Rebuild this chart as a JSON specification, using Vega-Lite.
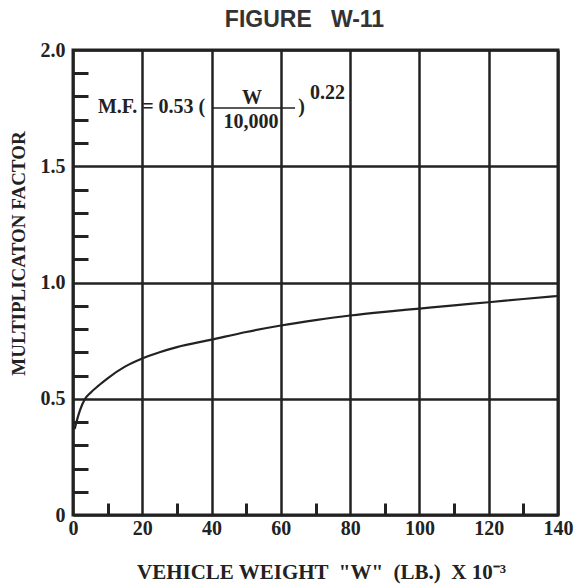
{
  "$schema": "https://vega.github.io/schema/vega-lite/v6.json",
  "width": 485,
  "height": 465,
  "autosize": "none",
  "padding": {"left": 73, "top": 50, "right": 20, "bottom": 73},
  "background": "white",
  "title": {
    "text": "FIGURE \u00a0\u00a0W-11",
    "font": "Liberation Sans",
    "fontSize": 23,
    "fontWeight": "bold",
    "color": "#333333",
    "anchor": "middle",
    "frame": "group",
    "dx": -11,
    "dy": 10,
    "baseline": "alphabetic",
    "offset": 0
  },
  "datasets": {
    "curve": [
      {"w": 0.5, "mf": 0.37},
      {"w": 1, "mf": 0.40},
      {"w": 2, "mf": 0.45},
      {"w": 3.5, "mf": 0.50},
      {"w": 5, "mf": 0.525},
      {"w": 7.5, "mf": 0.558},
      {"w": 10, "mf": 0.588},
      {"w": 15, "mf": 0.638},
      {"w": 20, "mf": 0.673},
      {"w": 25, "mf": 0.70},
      {"w": 30, "mf": 0.722},
      {"w": 40, "mf": 0.754},
      {"w": 50, "mf": 0.787},
      {"w": 60, "mf": 0.815},
      {"w": 70, "mf": 0.838},
      {"w": 80, "mf": 0.858},
      {"w": 90, "mf": 0.874},
      {"w": 100, "mf": 0.888},
      {"w": 110, "mf": 0.902},
      {"w": 120, "mf": 0.915},
      {"w": 130, "mf": 0.929},
      {"w": 140, "mf": 0.942}
    ],
    "fracbar": [
      {"x": 40.4, "x2": 64.1, "y": 1.751}
    ],
    "leftText": [
      {"label": "M.F. = 0.53 (", "x": 7.2, "y": 1.755},
      {"label": ")", "x": 65.0, "y": 1.755},
      {"label": "0.22", "x": 68.4, "y": 1.815}
    ],
    "centerText": [
      {"label": "W", "x": 51.7, "y": 1.794},
      {"label": "10,000", "x": 51.4, "y": 1.69}
    ]
  },
  "layer": [
    {
      "data": {"name": "curve"},
      "mark": {"type": "line", "color": "#222222", "strokeWidth": 2.2, "interpolate": "monotone"},
      "encoding": {
        "x": {
          "field": "w", "type": "quantitative",
          "scale": {"domain": [0, 140], "nice": false, "zero": false},
          "axis": {
            "orient": "bottom",
            "values": [0, 20, 40, 60, 80, 100, 120, 140],
            "grid": true, "gridColor": "#222222", "gridWidth": 2.5, "gridOpacity": 1,
            "ticks": false, "domain": false,
            "labelFont": "Liberation Serif", "labelFontWeight": "bold", "labelFontSize": 20,
            "labelColor": "#222222", "labelPadding": 3, "labelFlush": false, "labelOverlap": false,
            "title": "VEHICLE WEIGHT \u00a0\"W\" \u00a0(LB.) \u00a0X 10⁻³",
            "titleFont": "Liberation Serif", "titleFontWeight": "bold", "titleFontSize": 21,
            "titleColor": "#222222", "titleX": 248, "titleY": 57, "titleBaseline": "middle", "titleAnchor": "middle"
          }
        },
        "y": {
          "field": "mf", "type": "quantitative",
          "scale": {"domain": [0, 2], "nice": false, "zero": true},
          "axis": {
            "orient": "left",
            "values": [0, 0.5, 1, 1.5, 2],
            "labelExpr": "datum.value == 0 ? '0' : format(datum.value, '.1f')",
            "grid": true, "gridColor": "#222222", "gridWidth": 2.5, "gridOpacity": 1,
            "ticks": false, "domain": false,
            "labelFont": "Liberation Serif", "labelFontWeight": "bold", "labelFontSize": 20,
            "labelColor": "#222222", "labelPadding": 8, "labelFlush": false, "labelOverlap": false,
            "title": "MULTIPLICATON FACTOR",
            "titleFont": "Liberation Serif", "titleFontWeight": "bold", "titleFontSize": 19,
            "titleColor": "#222222", "titleX": -55, "titleY": 203, "titleAngle": -90,
            "titleBaseline": "middle", "titleAnchor": "middle"
          }
        }
      }
    },
    {
      "data": {"name": "fracbar"},
      "mark": {"type": "rule", "color": "#222222", "strokeWidth": 1.5},
      "encoding": {
        "x": {
          "field": "x", "type": "quantitative",
          "scale": {"domain": [0, 140], "nice": false, "zero": false},
          "axis": {
            "orient": "bottom",
            "values": [10, 30, 50, 70, 90, 110, 130],
            "labels": false, "domain": false, "grid": false,
            "ticks": true, "tickSize": -12, "tickWidth": 3, "tickColor": "#222222",
            "title": null
          }
        },
        "x2": {"field": "x2"},
        "y": {
          "field": "y", "type": "quantitative",
          "scale": {"domain": [0, 2], "nice": false, "zero": true},
          "axis": {
            "orient": "left",
            "values": [0.1, 0.2, 0.3, 0.4, 0.6, 0.7, 0.8, 0.9, 1.1, 1.2, 1.3, 1.4, 1.6, 1.7, 1.8, 1.9],
            "labels": false, "domain": false, "grid": false,
            "ticks": true, "tickSize": -15, "tickWidth": 3, "tickColor": "#222222",
            "title": null
          }
        }
      }
    },
    {
      "data": {"name": "leftText"},
      "mark": {"type": "text", "align": "left", "baseline": "middle", "font": "Liberation Serif", "fontWeight": "bold", "fontSize": 20, "color": "#222222"},
      "encoding": {
        "x": {"field": "x", "type": "quantitative", "scale": {"domain": [0, 140], "nice": false, "zero": false}, "axis": null},
        "y": {"field": "y", "type": "quantitative", "scale": {"domain": [0, 2], "nice": false, "zero": true}, "axis": null},
        "text": {"field": "label", "type": "nominal"}
      }
    },
    {
      "data": {"name": "centerText"},
      "mark": {"type": "text", "align": "center", "baseline": "middle", "font": "Liberation Serif", "fontWeight": "bold", "fontSize": 20, "color": "#222222"},
      "encoding": {
        "x": {"field": "x", "type": "quantitative", "scale": {"domain": [0, 140], "nice": false, "zero": false}, "axis": null},
        "y": {"field": "y", "type": "quantitative", "scale": {"domain": [0, 2], "nice": false, "zero": true}, "axis": null},
        "text": {"field": "label", "type": "nominal"}
      }
    }
  ],
  "resolve": {"axis": {"x": "independent", "y": "independent"}},
  "config": {
    "view": {"stroke": "#222222", "strokeWidth": 3}
  }
}
